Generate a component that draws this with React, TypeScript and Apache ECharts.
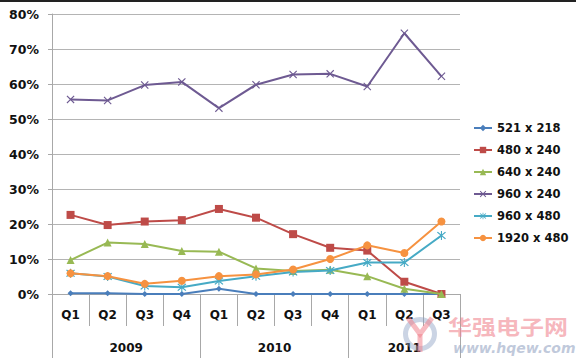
import React, { useEffect, useRef } from "react";
import * as echarts from "echarts";

const quarters = ["Q1", "Q2", "Q3", "Q4", "Q1", "Q2", "Q3", "Q4", "Q1", "Q2", "Q3"];
const yearLabels = ["2009", "2010", "2011"];
const yearCenters = [2, 6, 9.5];
const yearBounds = [0, 4, 8, 11];

const seriesNames = ["521 x 218", "480 x 240", "640 x 240", "960 x 240", "960 x 480", "1920 x 480"];
const s521x218 = [0.2, 0.2, 0, 0, 1.5, 0, 0, 0, 0, 0, 0];
const s480x240 = [22.6, 19.7, 20.7, 21.1, 24.3, 21.8, 17.1, 13.2, 12.4, 3.5, 0];
const s640x240 = [9.7, 14.7, 14.3, 12.3, 12.1, 7.3, 6.6, 6.9, 5.1, 1.5, 0];
const s960x240 = [55.6, 55.3, 59.7, 60.6, 53.1, 59.8, 62.7, 62.9, 59.3, 74.5, 62.2];
const s960x480 = [5.9, 5.0, 2.3, 1.9, 3.7, 5.1, 6.3, 6.7, 9.0, 9.0, 16.7];
const s1920x480 = [5.9, 5.1, 2.9, 3.8, 5.1, 5.6, 7.0, 10.0, 13.9, 11.7, 20.7];

const colors = ["#4A7EBB", "#BE4B48", "#98B954", "#6E5A92", "#46AAC5", "#F69240"];

const crossPath =
  "path://M0 1 L1 0 L5 4 L9 0 L10 1 L6 5 L10 9 L9 10 L5 6 L1 10 L0 9 L4 5 Z";
const asteriskPath =
  "path://M0 1 L1 0 L5 4 L9 0 L10 1 L6 5 L10 9 L9 10 L5 6 L1 10 L0 9 L4 5 Z M4.4 -1 L5.6 -1 L5.6 11 L4.4 11 Z";

const symbols = ["diamond", "rect", "triangle", crossPath, asteriskPath, "circle"];
const symbolSizes = [6, 8, 8, 8, 9, 8];
const allData = [s521x218, s480x240, s640x240, s960x240, s960x480, s1920x480];

const FONT = "DejaVu Sans";
const GRAY = "#a8a8a8";

export default function App() {
  const ref = useRef<HTMLDivElement>(null);
  useEffect(() => {
    if (!ref.current) return;
    const chart = echarts.init(ref.current, undefined, { renderer: "svg" });
    chart.setOption({
      animation: false,
      backgroundColor: "#ffffff",
      grid: { left: 52, right: 116, top: 14, bottom: 69 },
      legend: {
        orient: "vertical",
        left: 473,
        top: 121,
        padding: 0,
        itemWidth: 18,
        itemHeight: 8,
        itemGap: 8,
        data: seriesNames,
        textStyle: { fontFamily: FONT, fontWeight: "bold", fontSize: 11.5, color: "#111", lineHeight: 14 },
      },
      xAxis: [
        {
          type: "category",
          data: quarters,
          boundaryGap: true,
          axisLine: { show: true, lineStyle: { color: GRAY, width: 1 } },
          axisTick: { show: true, interval: 0, length: 32, lineStyle: { color: GRAY } },
          axisLabel: {
            interval: 0,
            margin: 15,
            fontFamily: FONT,
            fontWeight: "bold",
            fontSize: 12,
            color: "#111",
          },
          splitLine: { show: false },
        },
        {
          type: "value",
          position: "bottom",
          min: 0,
          max: 11,
          axisLine: { show: false },
          axisTick: { show: true, length: 64, customValues: yearBounds, lineStyle: { color: GRAY } },
          axisLabel: {
            customValues: yearCenters,
            margin: 48,
            fontFamily: FONT,
            fontWeight: "bold",
            fontSize: 12,
            color: "#111",
            formatter: (v: number) => {
              const i = yearCenters.indexOf(v);
              return i >= 0 ? yearLabels[i] : "";
            },
          },
          splitLine: { show: false },
        },
      ],
      yAxis: {
        type: "value",
        min: 0,
        max: 80,
        interval: 10,
        axisLine: { show: true, lineStyle: { color: GRAY, width: 1 } },
        axisTick: { show: true, length: 4, lineStyle: { color: GRAY } },
        axisLabel: {
          formatter: "{value}%",
          margin: 13,
          fontFamily: FONT,
          fontWeight: "bold",
          fontSize: 12.5,
          color: "#111",
        },
        splitLine: { show: true, lineStyle: { color: "#b4b4b4", width: 1 } },
      },
      series: seriesNames.map((name, i) => ({
        name,
        type: "line",
        xAxisIndex: 0,
        data: allData[i],
        symbol: symbols[i],
        symbolSize: symbolSizes[i],
        showAllSymbol: true,
        color: colors[i],
        lineStyle: { width: 2, color: colors[i] },
        itemStyle: { color: colors[i] },
        z: 2 + i,
      })),
      graphic: [
        {
          type: "line",
          shape: { x1: 0, y1: 1, x2: 576, y2: 1 },
          style: { stroke: "#222", lineWidth: 2 },
          z: 100,
        },
        {
          type: "ring",
          shape: { cx: 420, cy: 334, r: 17, r0: 12 },
          style: { fill: "rgba(140,160,195,0.45)" },
          z: 100,
        },
        {
          type: "polyline",
          shape: { points: [[408, 318], [420, 334], [432, 318]] },
          style: { stroke: "rgba(240,130,140,0.55)", lineWidth: 5, fill: "none" },
          z: 100,
        },
        {
          type: "line",
          shape: { x1: 420, y1: 334, x2: 420, y2: 352 },
          style: { stroke: "rgba(240,130,140,0.55)", lineWidth: 5 },
          z: 100,
        },
        {
          type: "text",
          x: 448,
          y: 316,
          scaleX: 1.2,
          style: {
            text: "华强电子网",
            fill: "rgba(240,135,145,0.6)",
            font: "bold 20px 'Noto Sans CJK SC'",
          },
          z: 100,
        },
        {
          type: "text",
          x: 453,
          y: 341,
          style: {
            text: "www.hqew.com",
            fill: "rgba(150,165,195,0.6)",
            font: "italic bold 14px 'DejaVu Sans'",
          },
          z: 100,
        },
      ],
    });
    return () => chart.dispose();
  }, []);
  return (
    <div
      ref={ref}
      style={{ position: "fixed", left: 0, top: 0, width: 576, height: 363 }}
    />
  );
}
